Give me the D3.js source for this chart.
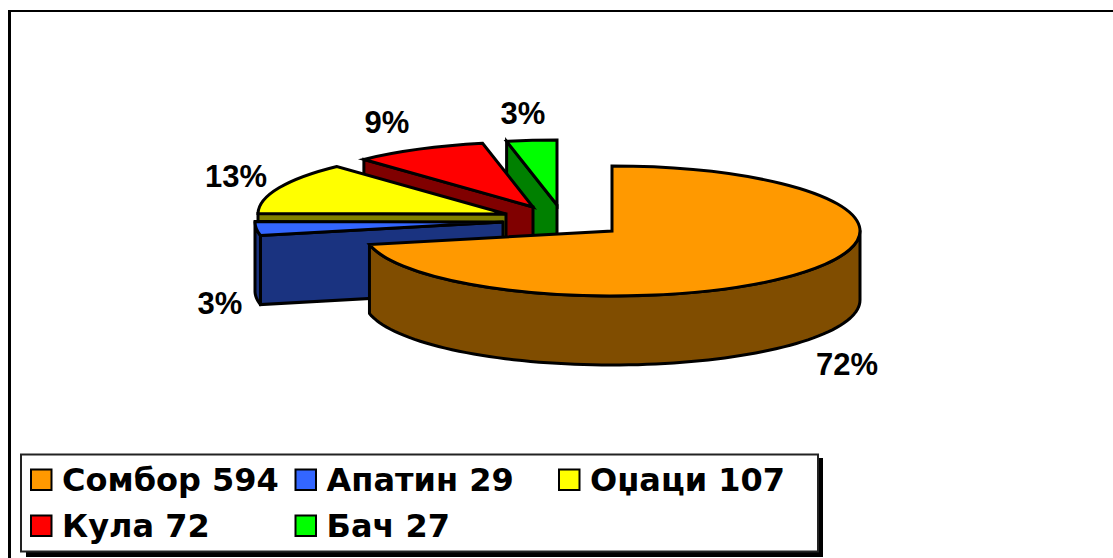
<!DOCTYPE html>
<html>
<head>
<meta charset="utf-8">
<script src="https://cdn.jsdelivr.net/npm/d3@7"></script>
<style>
    html, body { margin: 0; padding: 0; background: #fff; overflow: hidden; }
    svg { display: block; }
    .pct { font: bold 31px "Liberation Sans", Arial, sans-serif; text-anchor: middle; }
    .leg { font: bold 32px "DejaVu Sans", Verdana, sans-serif; }
</style>
</head>
<body>
<div id="chart"></div>
<script>
// Data
var towns = ["Сомбор", "Апатин", "Оџаци", "Кула", "Бач"];
var counts = [594, 29, 107, 72, 27];
var colors = ["#ff9900", "#3366ff", "#ffff00", "#ff0000", "#00ff00"];

// Layout
var width = 1113, height = 558;
var cx = 612, cy = 231, rx = 248, ry = 65, depth = 69;
var explode = [[0, 0], [-109, -9], [-106, -17], [-79, -24], [-55, -26]];
var labelPos = [[847, 375], [220, 314], [236, 187], [387, 133], [523, 124]];
var legendCols = [30, 294.5, 558];
var legendRows = [480, 526];

var svg = d3.select("#chart").append("svg")
    .attr("width", width)
    .attr("height", height);

// Chart frame, runs off the top and right of the image
svg.append("path")
    .attr("d", "M9.5," + height + "V11")
    .attr("fill", "none")
    .attr("stroke", "#000")
    .attr("stroke-width", 3);
svg.append("path")
    .attr("d", "M8,11H" + width)
    .attr("fill", "none")
    .attr("stroke", "#000")
    .attr("stroke-width", 2);

var pie = d3.pie().sort(null)(counts);
var pct = d3.format(".0%");
var total = d3.sum(counts);

var arc = d3.arc().innerRadius(0).outerRadius(rx);

function shade(c) {
    var rgb = d3.rgb(c);
    return d3.rgb(rgb.r / 2, rgb.g / 2, rgb.b / 2).formatHex();
}

// point on the ellipse at pie angle a
function rim(a, ox, oy, dz) {
    return [cx + ox + rx * Math.sin(a), cy + oy - ry * Math.cos(a) + dz];
}

var line = d3.line();

// draw back slices first, the big one last
var order = [4, 3, 2, 1, 0];

order.forEach(function(i) {
    var d = pie[i];
    var ox = explode[i][0], oy = explode[i][1];
    var g = svg.append("g").attr("class", "slice");
    var dark = shade(colors[i]);

    // cut face on the start side
    if (Math.sin(d.startAngle) < -0.01) {
        var p0 = rim(d.startAngle, ox, oy, 0), p1 = rim(d.startAngle, ox, oy, depth);
        var c0 = [cx + ox, cy + oy], c1 = [cx + ox, cy + oy + depth];
        g.append("path")
            .attr("d", line([c0, p0, p1, c1]) + "Z")
            .attr("fill", dark)
            .attr("stroke", "#000")
            .attr("stroke-width", 3)
            .attr("stroke-linejoin", "miter");
    }

    // outer wall, only the part facing the viewer
    var a0 = Math.max(d.startAngle, Math.PI / 2), a1 = Math.min(d.endAngle, 3 * Math.PI / 2);
    if (a1 > a0) {
        var angles = d3.range(0, 81).map(function(k) { return a0 + (a1 - a0) * k / 80; });
        var pts = angles.map(function(a) { return rim(a, ox, oy, 0); })
            .concat(angles.slice().reverse().map(function(a) { return rim(a, ox, oy, depth); }));
        g.append("path")
            .attr("d", line(pts) + "Z")
            .attr("fill", dark)
            .attr("stroke", "#000")
            .attr("stroke-width", 3)
            .attr("stroke-linejoin", "round");
    }

    // top face
    g.append("path")
        .attr("d", arc(d))
        .attr("transform", "translate(" + (cx + ox) + "," + (cy + oy) + ") scale(1," + (ry / rx) + ")")
        .attr("fill", colors[i])
        .attr("stroke", "#000")
        .attr("stroke-width", 3)
        .attr("vector-effect", "non-scaling-stroke");
});

// Percent labels
svg.selectAll("text.pct")
    .data(counts)
    .enter().append("text")
    .attr("class", "pct")
    .attr("x", function(d, i) { return labelPos[i][0]; })
    .attr("y", function(d, i) { return labelPos[i][1]; })
    .text(function(d) { return pct(d / total); });

// Legend box with hard shadow
svg.append("rect").attr("x", 26).attr("y", 458).attr("width", 797).attr("height", 99).attr("fill", "#000");
svg.append("rect").attr("x", 21).attr("y", 454.5).attr("width", 797).attr("height", 97)
    .attr("fill", "#fff").attr("stroke", "#222").attr("stroke-width", 2);

var legend = svg.selectAll("g.legend")
    .data(towns)
    .enter().append("g")
    .attr("class", "legend")
    .attr("transform", function(d, i) {
        return "translate(" + legendCols[i % 3] + "," + legendRows[Math.floor(i / 3)] + ")";
    });

legend.append("rect")
    .attr("x", 1).attr("y", -10.5)
    .attr("width", 20.5).attr("height", 20.5)
    .attr("fill", function(d, i) { return colors[i]; })
    .attr("stroke", "#000")
    .attr("stroke-width", 2);

legend.append("text")
    .attr("class", "leg")
    .attr("x", 32)
    .attr("y", 11)
    .text(function(d, i) { return d + " " + counts[i]; });
</script>
</body>
</html>
